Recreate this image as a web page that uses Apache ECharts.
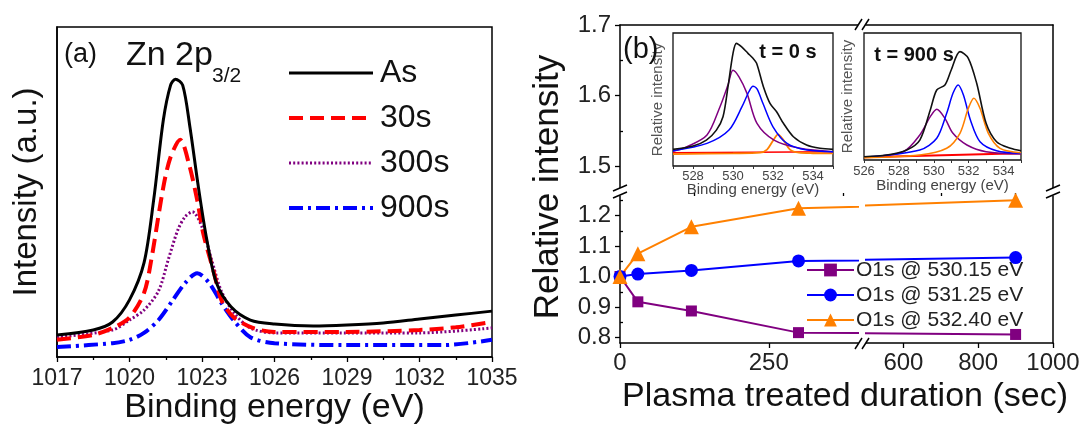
<!DOCTYPE html>
<html>
<head>
<meta charset="utf-8">
<script src="https://cdn.jsdelivr.net/npm/echarts@6/dist/echarts.min.js"></script>
<style>
  html, body { margin: 0; padding: 0; background: #fff; }
  #chart { width: 1084px; height: 430px; }
</style>
</head>
<body>
<div id="chart"></div>
<script>
// ---- (a) Zn 2p3/2 spectra: binding energy (eV) vs intensity (a.u.) ----
const asE   = [1017, 1018.5, 1019.3, 1020, 1020.6, 1021, 1021.4, 1021.7, 1021.9, 1022.2, 1022.5, 1022.85, 1023.2, 1023.6, 1024.2, 1025, 1026, 1027.6, 1029, 1030.5, 1032, 1033.5, 1035];
const asI   = [6.7, 8.2, 10.6, 17.3, 28.5, 47.6, 71.8, 82.4, 84.2, 82.4, 69.7, 51.5, 35.5, 22.4, 15.2, 11.2, 10, 9.4, 9.7, 10.3, 11.5, 12.7, 13.9];
const s30E  = [1017, 1018.5, 1019.3, 1020, 1020.6, 1020.9, 1021.4, 1021.7, 1022.1, 1022.45, 1022.8, 1023.05, 1023.5, 1023.8, 1024.3, 1025.1, 1026, 1029, 1032, 1033.5, 1035];
const s30I  = [5.2, 6.7, 8.8, 12, 19.4, 29.4, 51.5, 60.6, 65.8, 58.8, 47.6, 37.5, 25.4, 17.3, 12.1, 8.8, 7.6, 7.6, 8.2, 9, 10.6];
const s300E = [1017, 1019.3, 1020, 1020.6, 1021.2, 1021.6, 1022, 1022.3, 1022.6, 1023, 1023.4, 1023.8, 1024.3, 1025, 1026, 1029, 1032, 1035];
const s300I = [6, 8.2, 11.2, 14.2, 20, 29.4, 38.5, 42.5, 44, 39.4, 29.4, 20, 13.6, 8.8, 7.3, 7.3, 7.3, 8.8];
const s900E = [1017, 1019.3, 1020, 1020.6, 1021.2, 1021.8, 1022.3, 1022.8, 1023.3, 1023.8, 1024.3, 1025, 1026, 1029, 1033, 1035];
const s900I = [3, 4.2, 5.2, 7.3, 11.2, 17.3, 22.4, 25.4, 22.4, 16.4, 11.2, 6, 4.2, 3.6, 3.6, 5.2];

// ---- (b) relative O1s component intensity vs plasma treatment time ----
const duration = [0, 30, 120, 300, 900];
const o530 = [1.00, 0.917, 0.887, 0.816, 0.81];
const o531 = [1.00, 1.008, 1.02, 1.051, 1.062];
const o532 = [1.00, 1.075, 1.163, 1.224, 1.25];
const yTicksLow  = [0.8, 0.9, 1.0, 1.1, 1.2];
const yTicksHigh = [1.5, 1.6, 1.7];
const xTicksLeft  = [0, 250];
const xTicksRight = [600, 800, 1000];

// ---- insets: O1s fits at t = 0 s ----
const t0TotE = [527, 528, 528.67, 529.17, 529.5, 529.75, 530.0, 530.17, 530.42, 530.75, 531.0, 531.18, 531.52, 531.85, 532.18, 532.52, 533.02, 533.68, 534.35, 535];
const t0TotI = [12.5, 15, 19.5, 27, 37, 59.6, 84.7, 92.2, 89.7, 84.7, 81, 77.2, 59.6, 47.1, 40.8, 32.1, 22, 15.8, 13.3, 12.5];
const t0PkAE = [527, 527.7, 528.7, 529.35, 529.75, 530.0, 530.3, 530.7, 531.2, 532.05, 533.35, 535];
const t0PkAI = [11, 14.5, 23.3, 44.6, 61, 72, 67, 54.6, 32, 19.5, 13.3, 10.8];
const t0PkBE = [527, 528.7, 529.8, 530.45, 530.8, 531.0, 531.2, 531.5, 532.0, 532.7, 533.7, 535];
const t0PkBI = [11.5, 17, 27, 44.6, 56, 60, 58, 47, 29.5, 17, 12, 10.8];
const t0PkCE = [527, 530, 531.35, 531.7, 532.0, 532.25, 532.5, 532.85, 533.3, 534, 535];
const t0PkCI = [9, 9.5, 10, 12.3, 19, 23.8, 20, 12.3, 10, 9.6, 9.5];
const t0BgE  = [527, 535];
const t0BgI  = [10, 10.8];
const t0Ticks = [528, 530, 532, 534];

// ---- insets: O1s fits at t = 900 s ----
const t9TotE = [526, 527.3, 528.45, 529.2, 529.8, 530.17, 530.64, 531.0, 531.5, 531.98, 532.46, 533.0, 533.6, 534.4, 535];
const t9TotI = [2.6, 3.9, 7.9, 15.7, 39.4, 55.1, 59.1, 70.9, 85.3, 80.1, 60.4, 28.9, 14.4, 9.2, 7.3];
const t9PkAE = [526, 528.25, 529.2, 529.8, 530.17, 530.64, 531.1, 531.9, 533.0, 535];
const t9PkAI = [2.1, 6.5, 19.7, 34.1, 39.9, 32.8, 21, 11.8, 6.5, 4.7];
const t9PkBE = [526, 529.2, 530.17, 530.74, 531.1, 531.4, 531.7, 532.1, 532.65, 533.6, 535];
const t9PkBI = [2.1, 7.9, 17.1, 36.8, 52.5, 59.1, 51.2, 31.5, 14.4, 7.3, 5.3];
const t9PkCE = [526, 529.2, 530.74, 531.5, 531.98, 532.3, 532.65, 533.13, 533.8, 535];
const t9PkCI = [1.8, 3.9, 9.2, 21, 40.7, 48.6, 40.7, 21, 9.2, 5.7];
const t9BgE  = [526, 535];
const t9BgI  = [2.1, 5.3];
const t9Ticks = [526, 528, 530, 532, 534];

const FONT = '"Liberation Sans", Arial, Helvetica, sans-serif';
const zip = (xs, ys) => xs.map((x, i) => [x, ys[i]]);
const range = (a, b) => { const r = []; for (let v = a; v <= b; v++) r.push(v); return r; };
const fmt1 = v => Number(v).toFixed(1);
const plain = v => String(v);

const BLACK = '#000';
const PURPLE = '#800080';
const BLUE = '#0000ff';
const RED = '#ff0000';
const ORANGE = '#ff8000';

const noAxis = { show: false };
const frameLine = { show: true, onZero: false, lineStyle: { color: BLACK, width: 1.5 } };

const grids = [
  { left: 57, top: 27, width: 435, height: 330, show: true, borderColor: BLACK, borderWidth: 1.5, outerBoundsMode: 'none' }, // (a)
  { left: 620, top: 25, width: 238, height: 163, outerBoundsMode: 'none' },  // (b) upper-left
  { left: 866, top: 25, width: 187, height: 163, outerBoundsMode: 'none' },  // (b) upper-right
  { left: 620, top: 196, width: 238, height: 147, outerBoundsMode: 'none' }, // (b) lower-left
  { left: 866, top: 196, width: 187, height: 147, outerBoundsMode: 'none' }, // (b) lower-right
  { left: 673, top: 33, width: 160, height: 133, show: true, backgroundColor: '#fff', borderColor: '#111', borderWidth: 1.3, outerBoundsMode: 'none' }, // inset t=0
  { left: 864, top: 33, width: 157, height: 127, show: true, backgroundColor: '#fff', borderColor: '#111', borderWidth: 1.3, outerBoundsMode: 'none' }  // inset t=900
];

const tickLabel = (size, color) => ({ fontFamily: FONT, fontSize: size, color: color });

const xAxes = [
  { // 0: (a) binding energy
    type: 'value', gridIndex: 0, min: 1017, max: 1035, interval: 3,
    axisLine: frameLine,
    axisTick: { show: true, inside: false, length: 5, lineStyle: { color: BLACK, width: 1.3 } },
    minorTick: { show: true, splitNumber: 2, length: 3, lineStyle: { color: BLACK, width: 1.3 } },
    axisLabel: Object.assign({ margin: 10, formatter: plain }, tickLabel(23, '#222')),
    splitLine: { show: false },
    name: 'Binding energy (eV)', nameLocation: 'middle', nameGap: 34, nameMoveOverlap: false,
    nameTextStyle: { fontFamily: FONT, fontSize: 34, color: '#111' }
  },
  { type: 'value', gridIndex: 1, position: 'top', min: 0, max: 400, axisLine: frameLine, axisTick: noAxis, axisLabel: noAxis, splitLine: noAxis },
  { type: 'value', gridIndex: 2, position: 'top', min: 500, max: 1000, axisLine: frameLine, axisTick: noAxis, axisLabel: noAxis, splitLine: noAxis },
  { // 3: (b) lower-left duration
    type: 'value', gridIndex: 3, min: 0, max: 400, axisLine: frameLine,
    axisTick: { show: true, length: 5, customValues: xTicksLeft, lineStyle: { color: BLACK, width: 1.3 } },
    axisLabel: Object.assign({ margin: 8, customValues: xTicksLeft, formatter: plain }, tickLabel(24, '#222')),
    splitLine: noAxis
  },
  { // 4: (b) lower-right duration
    type: 'value', gridIndex: 4, min: 500, max: 1000, axisLine: frameLine,
    axisTick: { show: true, length: 5, customValues: xTicksRight, lineStyle: { color: BLACK, width: 1.3 } },
    axisLabel: Object.assign({ margin: 8, customValues: xTicksRight, formatter: plain }, tickLabel(24, '#222')),
    splitLine: noAxis
  },
  { // 5: minor ticks, lower-left
    type: 'value', gridIndex: 3, min: 0, max: 400, axisLine: noAxis, axisLabel: noAxis, splitLine: noAxis,
    axisTick: { show: true, length: 3, customValues: [125, 375], lineStyle: { color: BLACK, width: 1.3 } }
  },
  { // 6: minor ticks, lower-right
    type: 'value', gridIndex: 4, min: 500, max: 1000, axisLine: noAxis, axisLabel: noAxis, splitLine: noAxis,
    axisTick: { show: true, length: 3, customValues: [700, 900], lineStyle: { color: BLACK, width: 1.3 } }
  },
  { // 7: inset t = 0
    type: 'value', gridIndex: 5, min: 527, max: 535, axisLine: { show: false },
    axisTick: { show: true, length: 3, customValues: range(527, 535), lineStyle: { color: '#333', width: 1 } },
    axisLabel: Object.assign({ margin: 4, customValues: t0Ticks, formatter: plain }, tickLabel(13, '#444')),
    splitLine: noAxis,
    name: 'Binding energy (eV)', nameLocation: 'middle', nameGap: 16, nameMoveOverlap: false,
    nameTextStyle: { fontFamily: FONT, fontSize: 15, color: '#444' }
  },
  { // 8: inset t = 900
    type: 'value', gridIndex: 6, min: 526, max: 535, axisLine: { show: false },
    axisTick: { show: true, length: 3, customValues: range(526, 535), lineStyle: { color: '#333', width: 1 } },
    axisLabel: Object.assign({ margin: 5, customValues: t9Ticks, formatter: plain }, tickLabel(13, '#444')),
    splitLine: noAxis,
    name: 'Binding energy (eV)', nameLocation: 'middle', nameGap: 18, nameMoveOverlap: false,
    nameTextStyle: { fontFamily: FONT, fontSize: 15, color: '#444' }
  }
];

const yAxes = [
  { // 0: (a) intensity
    type: 'value', gridIndex: 0, min: 0, max: 100, axisLine: frameLine, axisTick: noAxis, axisLabel: noAxis, splitLine: noAxis,
    name: 'Intensity (a.u.)', nameLocation: 'middle', nameGap: 14, nameRotate: 90, nameMoveOverlap: false,
    nameTextStyle: { fontFamily: FONT, fontSize: 33, color: '#111' }
  },
  { // 1: (b) upper-left
    type: 'value', gridIndex: 1, min: 1.469, max: 1.7, axisLine: frameLine,
    axisTick: { show: true, length: 5, customValues: yTicksHigh, lineStyle: { color: BLACK, width: 1.3 } },
    axisLabel: Object.assign({ margin: 9, customValues: yTicksHigh, formatter: fmt1 }, tickLabel(24, '#222')),
    splitLine: noAxis
  },
  { type: 'value', gridIndex: 2, position: 'right', min: 1.469, max: 1.7, axisLine: frameLine, axisTick: noAxis, axisLabel: noAxis, splitLine: noAxis },
  { // 3: (b) lower-left
    type: 'value', gridIndex: 3, min: 0.782, max: 1.264, axisLine: frameLine,
    axisTick: { show: true, length: 5, customValues: yTicksLow, lineStyle: { color: BLACK, width: 1.3 } },
    axisLabel: Object.assign({ margin: 9, customValues: yTicksLow, formatter: fmt1 }, tickLabel(24, '#222')),
    splitLine: noAxis
  },
  { type: 'value', gridIndex: 4, position: 'right', min: 0.782, max: 1.264, axisLine: frameLine, axisTick: noAxis, axisLabel: noAxis, splitLine: noAxis },
  { // 5: minor ticks upper-left
    type: 'value', gridIndex: 1, min: 1.469, max: 1.7, axisLine: noAxis, axisLabel: noAxis, splitLine: noAxis,
    axisTick: { show: true, length: 3, customValues: [1.55, 1.65], lineStyle: { color: BLACK, width: 1.3 } }
  },
  { // 6: minor ticks lower-left
    type: 'value', gridIndex: 3, min: 0.782, max: 1.264, axisLine: noAxis, axisLabel: noAxis, splitLine: noAxis,
    axisTick: { show: true, length: 3, customValues: [0.85, 0.95, 1.05, 1.15, 1.25], lineStyle: { color: BLACK, width: 1.3 } }
  },
  { // 7: inset t = 0
    type: 'value', gridIndex: 5, min: 0, max: 100, axisLine: noAxis, axisTick: noAxis, axisLabel: noAxis, splitLine: noAxis,
    name: 'Relative intensity', nameLocation: 'middle', nameGap: 8, nameRotate: 90, nameMoveOverlap: false,
    nameTextStyle: { fontFamily: FONT, fontSize: 15, color: '#555' }
  },
  { // 8: inset t = 900
    type: 'value', gridIndex: 6, min: 0, max: 100, axisLine: noAxis, axisTick: noAxis, axisLabel: noAxis, splitLine: noAxis,
    name: 'Relative intensity', nameLocation: 'middle', nameGap: 9, nameRotate: 90, nameMoveOverlap: false,
    nameTextStyle: { fontFamily: FONT, fontSize: 15, color: '#555' }
  }
];

// spectra in panel (a)
function spectrum(name, xs, ys, color, width, type) {
  return {
    name, type: 'line', xAxisIndex: 0, yAxisIndex: 0, data: zip(xs, ys),
    symbol: 'none', smooth: 0.3,
    lineStyle: { color, width, type }, itemStyle: { color }, z: 3
  };
}

// relative-intensity trends in panel (b): same data drawn into both x segments
function trend(name, ys, color, symbol, size) {
  const common = {
    name, type: 'line', data: zip(duration, ys), clip: true,
    symbol, symbolSize: size, showAllSymbol: true,
    lineStyle: { color, width: 2 }, itemStyle: { color }, z: 4
  };
  return [
    Object.assign({ xAxisIndex: 3, yAxisIndex: 3 }, common),
    Object.assign({ xAxisIndex: 4, yAxisIndex: 4 }, common)
  ];
}

// fitted components in the insets
function fit(axis, xs, ys, color, width) {
  return {
    type: 'line', xAxisIndex: axis, yAxisIndex: axis, data: zip(xs, ys),
    symbol: 'none', smooth: 0.3, silent: true,
    lineStyle: { color, width }, z: 6
  };
}

const series = [
  spectrum('900s', s900E, s900I, BLUE, 4, [14, 5, 3, 5]),
  spectrum('300s', s300E, s300I, PURPLE, 3, [2, 2.2]),
  spectrum('30s', s30E, s30I, RED, 4, [14, 7]),
  spectrum('As', asE, asI, BLACK, 3, 'solid'),
  ...trend('O1s @ 530.15 eV', o530, PURPLE, 'rect', 11),
  ...trend('O1s @ 531.25 eV', o531, BLUE, 'circle', 13),
  ...trend('O1s @ 532.40 eV', o532, ORANGE, 'triangle', 15),
  fit(7, t0BgE, t0BgI, RED, 1.5),
  fit(7, t0PkCE, t0PkCI, ORANGE, 1.8),
  fit(7, t0PkAE, t0PkAI, PURPLE, 1.5),
  fit(7, t0PkBE, t0PkBI, BLUE, 1.5),
  fit(7, t0TotE, t0TotI, '#111', 1.6),
  fit(8, t9BgE, t9BgI, RED, 2),
  fit(8, t9PkAE, t9PkAI, PURPLE, 1.5),
  fit(8, t9PkBE, t9PkBI, BLUE, 1.5),
  fit(8, t9PkCE, t9PkCI, ORANGE, 1.6),
  fit(8, t9TotE, t9TotI, '#111', 1.6)
];

const legends = [
  {
    data: ['As', '30s', '300s', '900s'], orient: 'vertical', left: 287, top: 57, padding: 0,
    itemWidth: 84, itemHeight: 18, itemGap: 13, selectedMode: false,
    lineStyle: { width: 'inherit' },
    itemStyle: { opacity: 0 },
    textStyle: { fontFamily: FONT, fontSize: 32, lineHeight: 30, color: '#111', padding: [0, 0, 0, 2] }
  },
  {
    data: ['O1s @ 530.15 eV', 'O1s @ 531.25 eV', 'O1s @ 532.40 eV'], orient: 'vertical', left: 806, top: 259, padding: 0,
    itemWidth: 47, itemHeight: 16, itemGap: 3, selectedMode: false,
    textStyle: { fontFamily: FONT, fontSize: 21, lineHeight: 22, color: '#222', padding: [0, 0, 0, -3] }
  }
];

// axis-break marks: a white gap bridged by two slanted strokes
function breakMark(x1, y1, x2, y2, dx, dy) {
  return [
    { type: 'polygon', shape: { points: [[x1, y1], [x2, y2], [x2 + dx, y2 + dy], [x1 + dx, y1 + dy]] }, style: { fill: '#fff' }, z: 20 },
    { type: 'line', shape: { x1, y1, x2, y2 }, style: { stroke: BLACK, lineWidth: 1.5 }, z: 21 },
    { type: 'line', shape: { x1: x1 + dx, y1: y1 + dy, x2: x2 + dx, y2: y2 + dy }, style: { stroke: BLACK, lineWidth: 1.5 }, z: 21 }
  ];
}

const text = (t, x, y, size, opts) => Object.assign({
  type: 'text', x, y, z: 30,
  style: Object.assign({ text: t, fontFamily: FONT, fontSize: size, fill: '#111', align: 'left', verticalAlign: 'middle' }, opts || {})
});

const graphics = [
  text('(a)', 64, 55, 27),
  text('Zn 2p', 126, 56, 34),
  text('3/2', 212, 76, 21),
  text('(b)', 623, 50, 29),
  text('t = 0 s', 788, 52, 20, { align: 'center', fontWeight: 'bold' }),
  text('t = 900 s', 914, 55, 20, { align: 'center', fontWeight: 'bold' }),
  Object.assign(text('Relative intensity', 548, 187, 35, { align: 'center' }), { rotation: Math.PI / 2 }),
  text('Plasma treated duration (sec)', 845, 397, 34, { align: 'center' }),
  ...breakMark(855, 30, 862, 19, 7, 0),
  ...breakMark(855, 349, 862, 338, 7, 0),
  ...breakMark(613, 191, 627, 185, 0, 7),
  ...breakMark(1046, 191, 1060, 185, 0, 7)
];

const chart = echarts.init(document.getElementById('chart'), null, { renderer: 'canvas' });
chart.setOption({
  animation: false,
  backgroundColor: '#fff',
  textStyle: { fontFamily: FONT },
  grid: grids,
  xAxis: xAxes,
  yAxis: yAxes,
  legend: legends,
  series: series,
  graphic: graphics
});
</script>
</body>
</html>
